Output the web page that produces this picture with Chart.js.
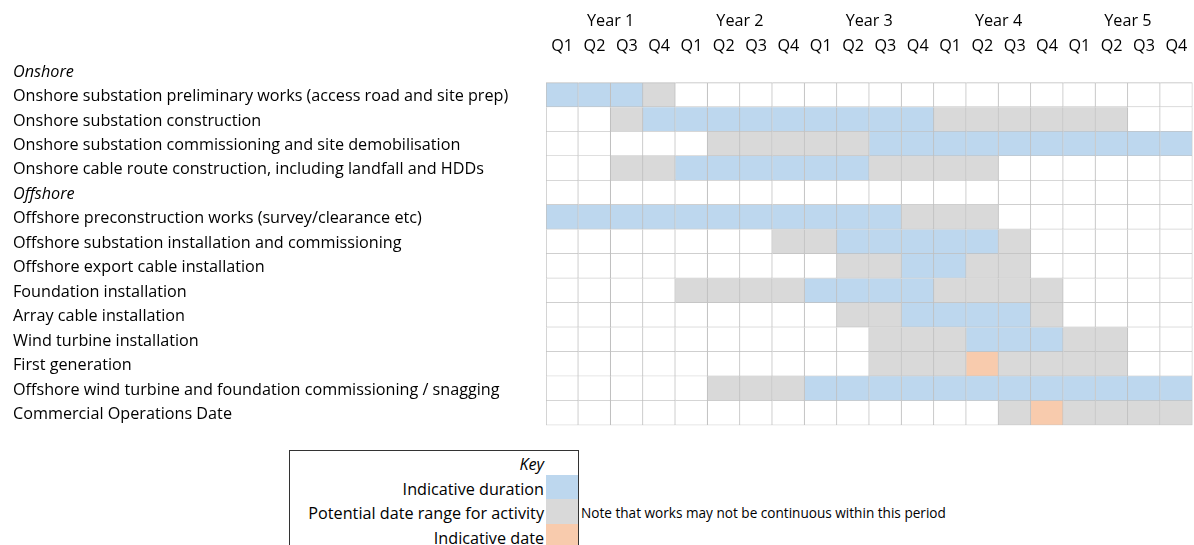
<!DOCTYPE html>
<html>
<head>
<meta charset="utf-8">
<script src="https://cdn.jsdelivr.net/npm/chart.js@4"></script>
<style>
  html, body { margin: 0; padding: 0; background: #fff; }
  body { width: 1194px; height: 545px; position: relative; overflow: hidden; font-family: "Open Sans", Lato, sans-serif; color: #000; }
  #wrap { position: absolute; left: 0; top: 0; width: 1194px; height: 440px; }
  #key { position: absolute; left: 289px; top: 450px; width: 288px; height: 110px; border: 1px solid #333; }
  .krow { position: absolute; left: 0; width: 288px; height: 24.5px; }
  .ktext { position: absolute; right: 34px; top: 1px; line-height: 24.5px; font-size: 16.2px; white-space: nowrap; }
  .sw { position: absolute; right: 0; top: 0; width: 32px; height: 24.5px; }
  #note { position: absolute; left: 581px; top: 501px; line-height: 24.5px; font-size: 13.6px; white-space: nowrap; }
</style>
</head>
<body>
<div id="wrap"><canvas id="chart"></canvas></div>
<div id="key"></div>
<div id="note">Note that works may not be continuous within this period</div>
<script>
// Time axis
const yearLabels = ['Year 1', 'Year 2', 'Year 3', 'Year 4', 'Year 5'];
const quarterLabels = ['Q1','Q2','Q3','Q4','Q1','Q2','Q3','Q4','Q1','Q2','Q3','Q4','Q1','Q2','Q3','Q4','Q1','Q2','Q3','Q4'];

// Activities (group headings are italic and carry no schedule)
const activities = [
  'Onshore',
  'Onshore substation preliminary works (access road and site prep)',
  'Onshore substation construction',
  'Onshore substation commissioning and site demobilisation',
  'Onshore cable route construction, including landfall and HDDs',
  'Offshore',
  'Offshore preconstruction works (survey/clearance etc)',
  'Offshore substation installation and commissioning',
  'Offshore export cable installation',
  'Foundation installation',
  'Array cable installation',
  'Wind turbine installation',
  'First generation',
  'Offshore wind turbine and foundation commissioning / snagging',
  'Commercial Operations Date'
];
const headings = ['Onshore', 'Offshore'];

// Quarter-by-quarter status: D = indicative duration, R = potential date range,
// X = indicative date, . = no activity; null = heading row outside the grid
const schedule = [
  null,
  'DDDR................',
  '..RDDDDDDDDDRRRRRR..',
  '.....RRRRRDDDDDDDDDD',
  '..RRDDDDDDRRRR......',
  '....................',
  'DDDDDDDDDDDRRR......',
  '.......RRDDDDDR.....',
  '.........RRDDRR.....',
  '....RRRRDDDDRRRR....',
  '.........RRDDDDR....',
  '..........RRRDDDRR..',
  '..........RRRXRRRR..',
  '.....RRRDDDDDDDDDDDD',
  '..............RXRRRR'
];

// Key entries
const keyTitle = 'Key';
const keyItems = [
  { code: 'D', label: 'Indicative duration' },
  { code: 'R', label: 'Potential date range for activity' },
  { code: 'X', label: 'Indicative date' }
];

const statusColor = { D: '#BDD7EE', R: '#D9D9D9', X: '#F8CBAD', '.': '#FFFFFF' };
const lineColor = '#BFBFBF';
const FONT = '"Open Sans", Lato, sans-serif';
const FONT_SIZE = 16.2;
const firstGridRow = schedule.findIndex(r => r !== null);

// One stacked dataset per quarter; each row contributes a one-quarter cell
const datasets = quarterLabels.map((q, qi) => ({
  label: q,
  data: schedule.map(r => (r === null ? null : 1)),
  backgroundColor: schedule.map(r => (r === null ? 'rgba(0,0,0,0)' : statusColor[r[qi]])),
  borderColor: lineColor,
  borderWidth: schedule.map((r, ri) => ({
    top: ri === firstGridRow ? 1 : 0,
    left: qi === 0 ? 1 : 0,
    right: 1,
    bottom: 1
  })),
  borderSkipped: false,
  barPercentage: 1,
  categoryPercentage: 1,
  xAxisID: 'x',
  yAxisID: 'y'
}));

const chartAreaLeft = 546;
const rowLabelLeft = 13;

new Chart(document.getElementById('chart'), {
  type: 'bar',
  data: { labels: activities, datasets },
  options: {
    indexAxis: 'y',
    responsive: true,
    maintainAspectRatio: false,
    animation: false,
    layout: { padding: { left: rowLabelLeft, right: 1.5, top: 8.2, bottom: 14.7 } },
    plugins: { legend: { display: false }, tooltip: { enabled: false } },
    scales: {
      x: {
        type: 'linear', position: 'top', stacked: true, min: 0, max: quarterLabels.length,
        weight: 0,
        grid: { display: false, drawTicks: false },
        border: { display: false },
        afterBuildTicks: s => { s.ticks = quarterLabels.map((_, i) => ({ value: i + 0.5 })); },
        afterFit: s => { s.height = 25; },
        ticks: {
          autoSkip: false, maxRotation: 0, padding: 2, color: '#000',
          font: { family: FONT, size: FONT_SIZE },
          callback: (v, i) => quarterLabels[i]
        }
      },
      x2: {
        type: 'linear', position: 'top', min: 0, max: quarterLabels.length,
        weight: 1,
        grid: { display: false, drawTicks: false },
        border: { display: false },
        afterBuildTicks: s => { s.ticks = yearLabels.map((_, i) => ({ value: i * 4 + 2 })); },
        afterFit: s => { s.height = 25; },
        ticks: {
          autoSkip: false, maxRotation: 0, padding: 2, color: '#000',
          font: { family: FONT, size: FONT_SIZE },
          callback: (v, i) => yearLabels[i]
        }
      },
      y: {
        type: 'category', stacked: true, position: 'left',
        grid: { display: false, drawTicks: false },
        border: { display: false },
        afterFit: s => { s.width = chartAreaLeft - rowLabelLeft; },
        ticks: {
          autoSkip: false, crossAlign: 'far', padding: 0, color: '#000', labelOffset: 1.5,
          font: ctx => ({
            family: FONT, size: FONT_SIZE,
            style: headings.includes(activities[ctx.index]) ? 'italic' : 'normal'
          })
        }
      }
    }
  }
});

// Key box
const key = document.getElementById('key');
const titleRow = document.createElement('div');
titleRow.className = 'krow';
titleRow.style.top = '0px';
titleRow.innerHTML = '<span class="ktext" style="font-style:italic">' + keyTitle + '</span>';
key.appendChild(titleRow);
keyItems.forEach((k, i) => {
  const row = document.createElement('div');
  row.className = 'krow';
  row.style.top = (24.5 * (i + 1)) + 'px';
  const t = document.createElement('span');
  t.className = 'ktext';
  t.textContent = k.label;
  const sw = document.createElement('span');
  sw.className = 'sw';
  sw.style.background = statusColor[k.code];
  sw.style.top = '-1px';
  row.appendChild(t);
  row.appendChild(sw);
  key.appendChild(row);
});
</script>
</body>
</html>
